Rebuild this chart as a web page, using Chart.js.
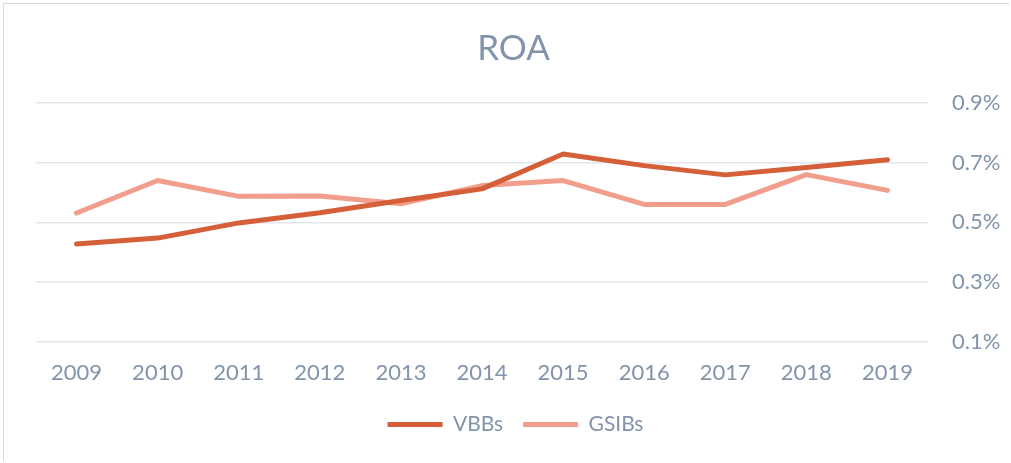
<!DOCTYPE html>
<html>
<head>
<meta charset="utf-8">
<script src="https://cdn.jsdelivr.net/npm/chart.js@4"></script>
<style>
html,body{margin:0;padding:0;background:#fff;}
#wrap{position:absolute;left:3px;top:3px;width:1006px;height:458px;border:1px solid #d9d9d9;border-right:none;border-bottom:none;box-sizing:border-box;}
canvas{position:absolute;left:0;top:0;}
</style>
</head>
<body>
<canvas id="c" width="1011" height="463"></canvas>
<div id="wrap"></div>
<script>
const categories = ['2009','2010','2011','2012','2013','2014','2015','2016','2017','2018','2019'];
const vbbs  = [0.427,0.447,0.498,0.532,0.573,0.612,0.729,0.690,0.659,0.684,0.710];
const gsibs = [0.531,0.640,0.587,0.588,0.562,0.623,0.640,0.560,0.560,0.660,0.607];
const yTicks = [0.1,0.3,0.5,0.7,0.9];

const textColor = '#8294ab';
const FONT = 'Lato, "Open Sans", sans-serif';

const shiftBoxes = {
  id:'shiftBoxes',
  afterLayout(chart){
    if (chart.legend){ chart.legend.left -= 8; chart.legend.right -= 8; }
    if (chart.titleBlock){ chart.titleBlock.left -= 10; chart.titleBlock.right -= 10; }
  }
};

new Chart(document.getElementById('c'), {
  type: 'line',
  data: {
    labels: categories,
    datasets: [
      {label:'VBBs', data:vbbs, borderColor:'#d55f39', backgroundColor:'#d55f39', borderWidth:5, pointRadius:0, tension:0, borderCapStyle:'round', borderJoinStyle:'round'},
      {label:'GSIBs', data:gsibs, borderColor:'#f29e8d', backgroundColor:'#f29e8d', borderWidth:5, pointRadius:0, tension:0, borderCapStyle:'round', borderJoinStyle:'round'}
    ]
  },
  plugins:[shiftBoxes],
  options: {
    responsive:false,
    animation:false,
    layout:{padding:{left:36,right:0,top:28,bottom:18}},
    plugins:{
      title:{display:true,text:'ROA',color:textColor,font:{family:FONT,size:35,weight:'normal'},padding:{top:0,bottom:33}},
      legend:{
        position:'bottom',
        labels:{
          color:textColor,
          font:{family:FONT,size:21},
          boxWidth:55, boxHeight:5, padding:20,
          generateLabels(chart){
            const items = Chart.defaults.plugins.legend.labels.generateLabels(chart);
            items.forEach(i=>{i.lineWidth=0;});
            return items;
          }
        }
      },
      tooltip:{enabled:false}
    },
    scales:{
      x:{
        offset:true,
        grid:{display:false},
        border:{display:false},
        afterFit(axis){axis.height = axis.height - 2;},
        ticks:{color:textColor,font:{family:FONT,size:22},padding:10}
      },
      y:{
        position:'right',
        min:0.1,max:0.9,
        afterBuildTicks(axis){axis.ticks = yTicks.map(v=>({value:v}));},
        afterFit(axis){axis.width = 83;},
        grid:{color:'#e3e6ec',lineWidth:1.5,drawTicks:false},
        border:{display:false},
        ticks:{color:textColor,font:{family:FONT,size:22},padding:24,callback:v=>v.toFixed(1)+'%'}
      }
    }
  }
});
</script>
</body>
</html>
